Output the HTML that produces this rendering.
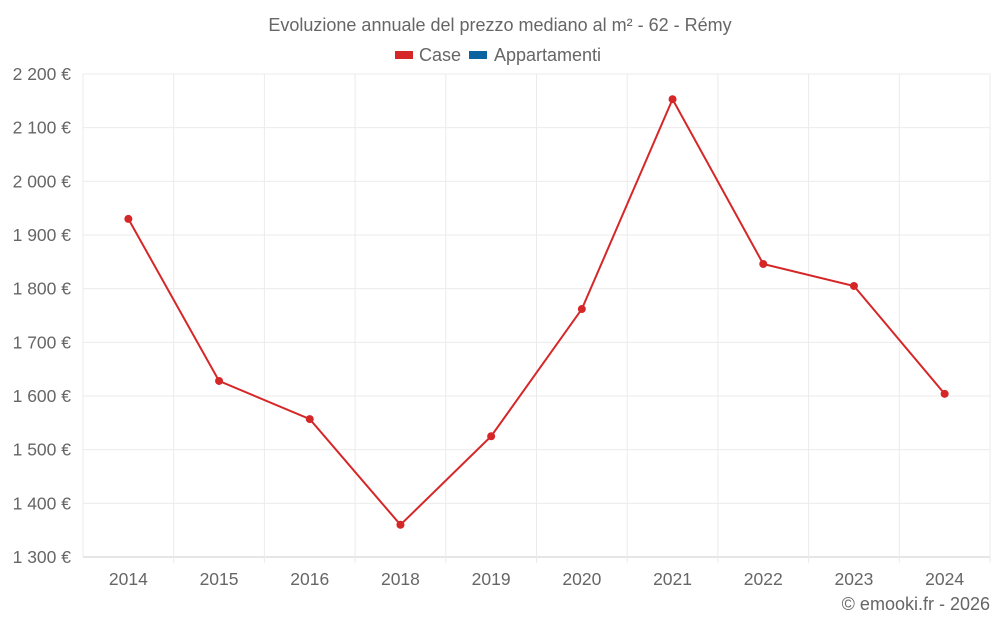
<!DOCTYPE html>
<html><head><meta charset="utf-8"><style>
body{margin:0;background:#fff;font-family:"Liberation Sans",sans-serif}
svg text{font-family:"Liberation Sans",sans-serif;fill:#666}
</style></head><body>
<svg id="c" width="1000" height="625">
<text x="500" y="31" text-anchor="middle" font-size="18">Evoluzione annuale del prezzo mediano al m² - 62 - Rémy</text>
<g>
<g><rect x="395" y="51" width="18" height="8" fill="#d62728"/><text x="419" y="61" font-size="18">Case</text></g>
<g><rect x="469" y="51" width="18" height="8" fill="#0a64a0"/><text x="494" y="61" font-size="18">Appartamenti</text></g>
</g>
<g id="grid"></g><g id="axes"></g><g id="series"></g>
<text x="990" y="610" text-anchor="end" font-size="18">© emooki.fr - 2026</text>
</svg>
<script>
const categories=["2014","2015","2016","2018","2019","2020","2021","2022","2023","2024"];
const caseValues=[1930,1628,1557,1360,1525,1762,2153,1846,1805,1604];
const yTicks=[1300,1400,1500,1600,1700,1800,1900,2000,2100,2200];
const yTickLabels=["1 300 €","1 400 €","1 500 €","1 600 €","1 700 €","1 800 €","1 900 €","2 000 €","2 100 €","2 200 €"];
const L=83,R=990,T=74,B=557,ymin=1300,ymax=2200;
const ns="http://www.w3.org/2000/svg";
const bw=(R-L)/categories.length;
const x=i=>L+bw*(i+0.5);
const y=v=>B-(v-ymin)/(ymax-ymin)*(B-T);
function mk(t,a,p){const e=document.createElementNS(ns,t);for(const k in a)e.setAttribute(k,a[k]);p.appendChild(e);return e;}
const g=document.getElementById('grid'),ax=document.getElementById('axes'),s=document.getElementById('series');
yTicks.forEach((v,i)=>{
 const l=mk('line',{x1:L,x2:R,y1:y(v),y2:y(v),stroke:i==0?'#ccc':'#ebebeb'},g);
 
 
 const t=mk('text',{x:L-12,y:y(v)+6,'text-anchor':'end','font-size':17.5},ax);t.textContent=yTickLabels[i];
 
 
});
for(let i=0;i<=categories.length;i++){
 const l=mk('line',{x1:L+bw*i,x2:L+bw*i,y1:T,y2:B+(i==0?0:6),stroke:'#ebebeb'},g);
 
 
}
categories.forEach((c,i)=>{
 const t=mk('text',{x:x(i),y:585,'text-anchor':'middle','font-size':17.5},ax);t.textContent=c;
 
 
});
const p=mk('polyline',{points:caseValues.map((v,i)=>x(i)+','+y(v)).join(' '),fill:'none',stroke:'#d62728','stroke-width':2},s);


caseValues.forEach((v,i)=>{
 const c=mk('circle',{cx:x(i),cy:y(v),r:4,fill:'#d62728'},s);
 
 
});
</script>
</body></html>
